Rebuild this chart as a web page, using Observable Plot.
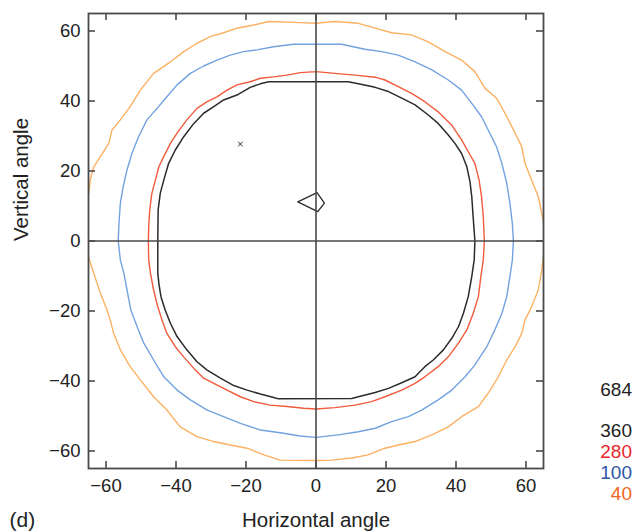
<!DOCTYPE html>
<html>
<head>
<meta charset="utf-8">
<script src="https://cdn.jsdelivr.net/npm/d3@7"></script>
<script src="https://cdn.jsdelivr.net/npm/@observablehq/plot@0.6"></script>
<style>
  html, body { margin: 0; padding: 0; background: #fff; }
  #wrap { position: relative; width: 636px; height: 532px; font-family: "Liberation Sans", Arial, sans-serif; }
  #legend { position: absolute; right: 4px; top: 380px; text-align: right; font-size: 19px; line-height: 20.7px; }
</style>
</head>
<body>
<div id="wrap"><div id="legend"></div></div>
<script>
// Tick values
const xTicks = [-60, -40, -20, 0, 20, 40, 60];
const yTicks = [-60, -40, -20, 0, 20, 40, 60];

// Contour levels and legend
const legendLabels = ["684", "", "360", "280", "100", "40"];
const legendColors = ["#222", "#222", "#222", "#e8262a", "#2e55a5", "#f26522"];

// Contour 360 (black)
const c360 = [[-13.5,45.5],[-15.9,44.9],[-18.8,43.9],[-22.6,41.7],[-26.4,40.3],[-29.2,38.4],[-32.1,36.5],[-34.9,33.6],[-37.8,29.8],[-40.2,26],[-42.1,22.2],[-43.5,17.4],[-44.5,13.6],[-45.1,8.9],[-45.2,0],
[-45.2,-9.2],[-44.9,-12.1],[-44.3,-15.9],[-43.1,-19.7],[-41.6,-23.5],[-39.7,-27.3],[-36.9,-31.1],[-34,-34.5],[-31.1,-36.9],[-27.3,-39.2],[-23.5,-41.3],[-19.7,-42.6],[-15.9,-43.7],[-12.1,-44.7],[-10.7,-45.1],
[10.2,-45],[12.1,-44.5],[16.9,-43.3],[20.7,-42.1],[24.5,-40.5],[28.3,-38.8],[31.1,-35.9],[33.5,-34],[36.4,-31.1],[38.8,-27.8],[40.7,-24.5],[42.1,-20.7],[43.5,-15.9],[44.5,-10.2],[45.2,-5.4],[45.4,0],
[44.9,6.9],[44.5,12.7],[44,16.9],[43.1,21.2],[41.6,25],[39.7,27.9],[37.8,30.3],[34.9,33.6],[32.1,36],[28.3,38.9],[24.5,40.8],[20.7,42.7],[16.9,43.9],[12.1,44.9],[9.2,45.5],[-13.5,45.5]];

// Contour 280 (red)
const c280 = [[0,48.4],[-4.5,48.1],[-8.3,47.4],[-12.1,46.9],[-15.9,46.5],[-18.8,45.5],[-22.6,44.6],[-25.4,43.1],[-28.3,41.2],[-31.1,39.8],[-34,37.9],[-36.9,34.6],[-39.7,30.8],[-41.6,27.9],[-43.5,24.1],[-44.9,21.2],[-45.9,17.4],[-46.9,13.6],[-47.5,8.9],[-47.8,4.1],[-47.9,0],
[-47.8,-5.4],[-47.3,-9.2],[-46.4,-14],[-45.2,-18.8],[-44,-22.6],[-42.6,-26.4],[-40.2,-30.2],[-37.8,-33.1],[-34.9,-36.4],[-32.1,-39.2],[-29.2,-40.7],[-25.4,-42.6],[-21.6,-44.5],[-17.8,-45.9],[-13.1,-46.9],[-8.3,-47.3],[-3.5,-47.8],[0,-48],
[5.4,-47.6],[11.1,-46.9],[15.9,-45.9],[19.7,-44.5],[24.5,-42.6],[28.3,-40.7],[31.1,-38.8],[34.9,-35.9],[37.8,-33.1],[40.7,-29.2],[43.1,-25.4],[44.9,-20.7],[46.4,-15.9],[47.1,-10.2],[47.8,-5.4],[48.1,0],
[47.8,6.9],[47.3,12.7],[46.6,17.4],[45.4,22.2],[43.5,25.5],[41.6,28.9],[38.8,33.1],[34.9,36.9],[31.1,39.8],[27.3,42.2],[23.5,44.1],[19.7,46],[16.9,46.8],[11.1,47.4],[5.4,47.9],[0,48.4]];

// Contour 100 (blue)
const c100 = [[0,56.2],[-6.4,56.2],[-12.1,55.5],[-16.9,54.6],[-20.7,54.1],[-24.5,53.1],[-28.3,51.7],[-32.1,50],[-35.9,47.9],[-39.7,44.6],[-42.6,41.2],[-45.4,37.9],[-48.3,34.6],[-50.7,29.8],[-52.6,25],[-54,20.3],[-55.1,15.5],[-55.9,10.8],[-56.3,5],[-56.5,0],
[-55.9,-5.4],[-54.9,-9.2],[-54,-14],[-52.9,-19.7],[-51.1,-24.5],[-49.2,-29.2],[-46.4,-34],[-43.5,-38.8],[-39.7,-42.6],[-35.9,-45.4],[-31.1,-48.3],[-26.4,-50.2],[-21.6,-52.1],[-15.9,-54],[-10.2,-54.8],[-4.5,-55.7],[0,-56.1],
[6.4,-55.4],[12.1,-54.5],[16.9,-53.5],[21.6,-51.6],[26.4,-50.2],[30.2,-48.3],[34.9,-45.4],[38.8,-42.6],[42.6,-38.8],[45.4,-35.4],[48.8,-30.2],[51.1,-25.4],[53.1,-20.7],[54.5,-15.9],[55.4,-10.2],[56.1,-5.4],[56.4,0],
[56.1,5],[55.4,10.8],[54.5,16.5],[53.1,22.2],[51.6,26.9],[49.2,31.7],[47.3,35.5],[44.5,39.3],[41.6,43.1],[37.8,46],[33.1,48.9],[28.3,51.2],[23.5,53.1],[18.8,54.1],[14,54.8],[7.3,56.2],[0,56.2]];

// Contour 40 (orange), partly beyond the frame
const c40 = [[0,62.2],[-4.5,62.4],[-13.5,62.7],[-17.8,61.7],[-22.6,60.8],[-26.4,59.5],[-30.2,58.4],[-34,56.5],[-37.8,54.1],[-41.6,51.2],[-46.4,47.9],[-50.2,43.1],[-53.1,38.4],[-55.9,34.6],[-58.3,31.7],[-59.2,27.9],[-61.6,24.1],[-63.5,21.2],[-64.5,17.4],[-64.9,13.6],[-66.3,9],[-67,3],[-66.2,-1.5],
[-64.9,-4.9],[-63.5,-9.2],[-61.6,-14.9],[-59.7,-19.7],[-58.8,-22.6],[-57.8,-26.4],[-55.9,-31.1],[-53.1,-35.9],[-50.2,-39.7],[-46.4,-44.5],[-42.6,-48.3],[-38.8,-53.1],[-34,-55.9],[-29.2,-57.3],[-24.5,-58.3],[-19.7,-59.2],[-14.9,-61.1],[-10.2,-62.6],[0,-62.7],
[4.5,-62.6],[10.2,-62],[14.9,-61.1],[19.7,-59.2],[23.5,-58.3],[28.3,-57.3],[33.1,-55.4],[37.8,-53.1],[41.6,-50.2],[46.4,-47.3],[49.2,-43.5],[52.1,-38.8],[54.5,-34],[56.9,-30.2],[58.8,-26.4],[59.7,-22.6],[61.6,-18.8],[63.5,-14],[64.5,-8.3],[65.2,-2.6],[66,0.3],
[65.4,3.1],[64.9,6],[63.5,12.7],[61.6,17.4],[59.7,22.2],[58.8,26.9],[56.9,30.8],[54,36.5],[51.6,40.8],[48.3,43.6],[45.4,48.4],[41.6,51.7],[36.9,54.1],[32.1,56.9],[27.3,58.9],[21.6,59.5],[16.9,60.8],[12.1,62.2],[5.4,62.7],[0,62.2]];

// Contour 684 (black, small)
const c684 = [[-5.2,11.2],[0.3,13.8],[2.4,10.8],[0.5,8.4],[-5.2,11.2]];
const c684dot = [[-21.6,27.7]];

const contours = [
  {level: "40", pts: c40, color: "#fbb161", w: 1.4},
  {level: "100", pts: c100, color: "#72a2df", w: 1.4},
  {level: "280", pts: c280, color: "#f25a3c", w: 1.4},
  {level: "360", pts: c360, color: "#2b2b2b", w: 1.5},
  {level: "684", pts: c684, color: "#2b2b2b", w: 1.3}
];

const W = 636, H = 532, mL = 88, mR = 93, mT = 13, mB = 64;
const plotH = H - mT - mB, plotW = W - mL - mR, tick = 7;
const axisColor = "#4a4a4a";
const font = "Liberation Sans, Arial, sans-serif";

const lineMarks = contours.map(c => Plot.line(c.pts, {x: d => d[0], y: d => d[1], stroke: c.color, strokeWidth: c.w, clip: true}));

const chart = Plot.plot({
  width: W, height: H,
  marginLeft: mL, marginRight: mR, marginTop: mT, marginBottom: mB,
  style: {fontFamily: font, background: "transparent", color: "#222"},
  x: {domain: [-65, 65]},
  y: {domain: [-65, 65]},
  marks: [
    ...lineMarks,
    Plot.dot(c684dot, {x: d => d[0], y: d => d[1], symbol: "times", r: 2.2, stroke: "#2b2b2b", strokeWidth: 1}),
    Plot.ruleX([0], {stroke: axisColor, strokeWidth: 1.6}),
    Plot.ruleY([0], {stroke: axisColor, strokeWidth: 1.6}),
    Plot.tickX(xTicks, {x: d => d, insetTop: plotH - tick, stroke: axisColor, strokeWidth: 1.6}),
    Plot.tickX(xTicks, {x: d => d, insetBottom: plotH - tick, stroke: axisColor, strokeWidth: 1.6}),
    Plot.tickY(yTicks, {y: d => d, insetRight: plotW - tick, stroke: axisColor, strokeWidth: 1.6}),
    Plot.tickY(yTicks, {y: d => d, insetLeft: plotW - tick, stroke: axisColor, strokeWidth: 1.6}),
    Plot.frame({stroke: axisColor, strokeWidth: 1.8}),
    Plot.axisX({ticks: xTicks, tickSize: 0, tickPadding: 10, fontSize: 18.5, label: null, fill: "#222"}),
    Plot.axisY({ticks: yTicks, tickSize: 0, tickPadding: 8, fontSize: 18.5, label: null, fill: "#222"}),
    Plot.text(["Horizontal angle"], {frameAnchor: "bottom", dy: 58, lineAnchor: "bottom", fontSize: 20.5, fill: "#222"}),
    Plot.text(["Vertical angle"], {frameAnchor: "left", dx: -67, rotate: -90, fontSize: 20.5, fill: "#222"}),
    Plot.text(["(d)"], {frameAnchor: "bottom-left", dx: -79, dy: 58, textAnchor: "start", lineAnchor: "bottom", fontSize: 21, fill: "#222"})
  ]
});

const wrap = document.getElementById("wrap");
wrap.insertBefore(chart, wrap.firstChild);

const legend = document.getElementById("legend");
legendLabels.forEach((t, i) => {
  const div = document.createElement("div");
  div.textContent = t || "\u00a0";
  div.style.color = legendColors[i];
  legend.appendChild(div);
});
</script>
</body>
</html>
